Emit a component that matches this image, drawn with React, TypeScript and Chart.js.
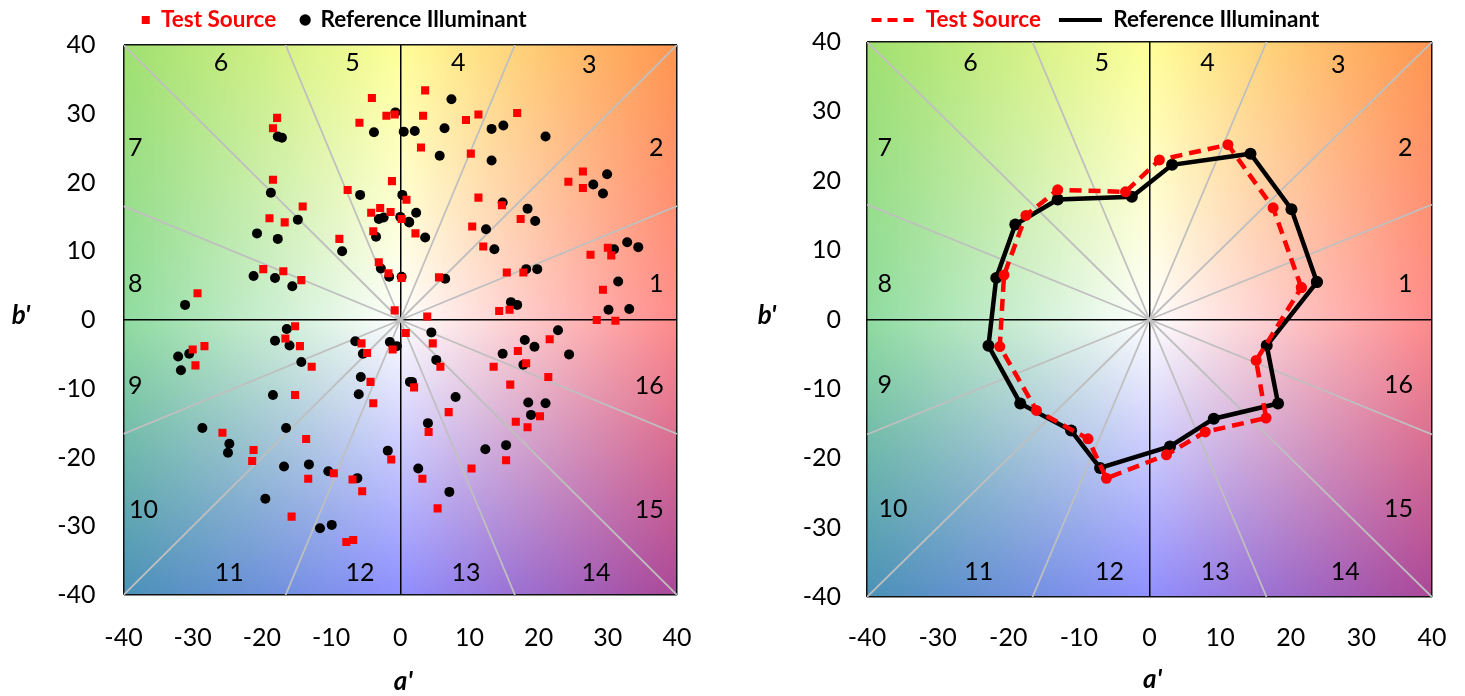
import React, { useEffect, useRef } from "react";
import { Chart, registerables } from "chart.js";

Chart.register(...registerables);

const testSourceScatter: number[][] = [
  [-4.1, 32.3], [-5.9, 28.7], [-2.0, 29.7], [-0.8, 29.9], [-17.8, 29.4], [-18.4, 27.9], [-18.4, 20.4], [-1.2, 20.2],
  [-7.6, 18.9], [0.9, 17.5], [-14.1, 16.5], [-2.9, 16.3], [-1.4, 15.7], [-4.2, 15.6], [0.2, 14.7], [-18.9, 14.8],
  [-16.7, 14.2], [-3.9, 12.9], [-8.8, 11.8], [-3.1, 8.4], [-1.7, 6.8], [0.2, 6.1], [-19.8, 7.4], [-16.9, 7.1],
  [-14.3, 5.8], [-29.3, 3.9], [-0.8, 1.4],
  [3.6, 33.4], [3.3, 29.7], [9.5, 29.1], [11.3, 29.9], [16.9, 30.1], [3.0, 25.1], [10.2, 24.2], [26.4, 21.6],
  [24.3, 20.1], [26.4, 19.2], [11.3, 17.8], [14.7, 16.7], [17.4, 14.7], [10.4, 13.6], [2.2, 12.6], [12.0, 10.7],
  [30.0, 10.5], [30.5, 9.4], [27.5, 9.5], [5.6, 6.2], [15.4, 6.9], [17.8, 6.9], [29.3, 4.4], [3.9, 0.5],
  [14.3, 1.3], [15.8, 1.5], [28.4, 0], [31.1, -0.1],
  [-15.2, -0.9], [-16.6, -2.7], [-14.5, -3.8], [-28.3, -3.8], [-30.0, -4.3], [-29.6, -6.6], [-12.8, -6.8], [-5.6, -3.4],
  [-4.8, -4.8], [-1.1, -4.3], [-4.3, -9.0], [-3.9, -12.1], [-15.2, -10.9], [-25.7, -16.4], [-13.6, -17.3],
  [-21.2, -18.9], [-21.4, -20.5], [-1.3, -20.3], [-13.3, -23.1], [-9.6, -22.3], [-6.9, -23.2], [-5.5, -24.9],
  [-15.7, -28.6], [-6.8, -32.0], [-7.8, -32.3],
  [0.8, -1.9], [4.7, -3.4], [5.8, -6.8], [2.0, -9.8], [7.0, -13.4], [4.1, -16.3], [10.3, -21.6], [3.2, -23.1],
  [5.4, -27.4], [21.6, -2.8], [17.0, -4.5], [13.5, -6.8], [18.2, -6.3], [21.4, -8.3], [15.9, -9.4], [20.2, -14.0],
  [16.7, -14.8], [18.4, -15.6], [15.3, -20.4],
];

const referenceScatter: number[][] = [
  [-0.7, 30.2], [-3.8, 27.3], [0.5, 27.4], [-17.7, 26.7], [-17.1, 26.5], [-18.7, 18.5], [-5.8, 18.2], [0.3, 18.2],
  [-14.8, 14.6], [-3.1, 14.7], [-2.4, 14.9], [0, 15.0], [1.25, 14.3], [-20.7, 12.6], [-17.7, 11.8], [-3.5, 12.1],
  [-8.4, 10.0], [-2.8, 7.5], [-1.6, 6.3], [0.2, 6.3], [-21.2, 6.4], [-18.1, 6.1], [-15.6, 4.9], [-31.1, 2.2],
  [7.4, 32.1], [2.1, 27.5], [6.4, 27.9], [13.2, 27.8], [14.9, 28.3], [21.0, 26.7], [5.7, 23.9], [13.2, 23.2],
  [29.9, 21.2], [27.9, 19.7], [29.3, 18.4], [14.8, 17.1], [18.4, 16.2], [19.5, 14.4], [2.3, 15.6], [1.3, 14.2],
  [3.6, 12.0], [12.4, 13.2], [13.6, 10.3], [32.8, 11.3], [34.4, 10.6], [30.9, 10.3], [18.2, 7.4], [19.8, 7.4],
  [6.5, 6.0], [31.5, 5.6], [16.0, 2.6], [16.9, 2.2], [30.1, 1.5], [33.1, 1.6],
  [-16.4, -1.3], [-18.1, -3.0], [-16.0, -3.7], [-14.3, -6.1], [-30.5, -4.9], [-32.1, -5.3], [-31.7, -7.3], [-6.5, -3.1],
  [-5.4, -4.9], [-1.5, -3.2], [-0.5, -3.8], [-5.7, -8.3], [-6.0, -10.8], [-18.4, -10.9], [1.4, -9.0], [-28.6, -15.7],
  [-16.5, -15.7], [-24.7, -18.0], [-24.9, -19.3], [-1.8, -19.0], [-16.8, -21.3], [-13.2, -21.0], [-10.4, -22.0],
  [-6.2, -23.0], [-19.5, -26.0], [-9.9, -29.8], [-11.6, -30.3],
  [4.5, -1.8], [5.2, -5.8], [1.7, -9.0], [8.0, -11.2], [4.0, -15.0], [12.3, -18.8], [15.3, -18.2], [2.6, -21.6],
  [7.1, -25.0], [22.8, -1.5], [18.0, -2.9], [19.4, -3.9], [14.8, -4.9], [17.8, -6.5], [24.4, -5.0], [18.5, -12.0],
  [21.0, -12.1], [18.9, -13.8],
];

const testSourceVector: number[][] = [
  [21.5, 4.6], [17.5, 16.1], [11.1, 25.2], [1.4, 23.0], [-3.4, 18.4], [-13.0, 18.7], [-17.5, 15.0], [-20.6, 6.4],
  [-21.2, -3.9], [-16.0, -13.1], [-8.7, -17.2], [-6.1, -22.9], [2.4, -19.5], [7.9, -16.2], [16.5, -14.2], [15.1, -5.9],
];

const referenceVector: number[][] = [
  [23.7, 5.4], [20.1, 15.9], [14.3, 23.9], [3.2, 22.3], [-2.5, 17.7], [-13.0, 17.3], [-19.0, 13.7], [-21.7, 6.0],
  [-22.8, -3.8], [-18.3, -12.1], [-11.1, -16.0], [-7.0, -21.4], [2.9, -18.3], [9.1, -14.3], [18.2, -12.1], [16.6, -3.75],
];

const sectorRayEnds: number[][] = [
  [40, 16.57], [40, 40], [16.57, 40], [-16.57, 40], [-40, 40], [-40, 16.57],
  [-40, -16.57], [-40, -40], [-16.57, -40], [16.57, -40], [40, -40], [40, -16.57],
];

const sectorLabels = ["1", "2", "3", "4", "5", "6", "7", "8", "9", "10", "11", "12", "13", "14", "15", "16"];
const sectorAnchors: number[][] = [
  [37, 5.2], [37, 25], [27.3, 37.1], [8.4, 37.4], [-6.9, 37.4], [-25.9, 37.4], [-38.3, 25], [-38.3, 5.2],
  [-38.3, -9.6], [-37.1, -27.6], [-24.7, -36.8], [-5.8, -36.8], [9.5, -36.8], [28.3, -36.8], [36, -27.6], [36, -9.6],
];

const tickValues = [-40, -30, -20, -10, 0, 10, 20, 30, 40];
const testLabel = "Test Source";
const referenceLabel = "Reference Illuminant";
const RED = "#ff0000";
const FONT = "Lato";

type RGB = number[];
const colorGrid: RGB[][] = [
  [[160, 224, 112], [255, 255, 153], [255, 150, 80]],
  [[144, 220, 160], [255, 255, 255], [255, 140, 140]],
  [[76, 146, 184], [144, 144, 255], [172, 72, 152]],
];

function makeBackground(): HTMLCanvasElement {
  const n = 200;
  const c = document.createElement("canvas");
  c.width = n;
  c.height = n;
  const ctx = c.getContext("2d")!;
  const img = ctx.createImageData(n, n);
  for (let j = 0; j < n; j++) {
    for (let i = 0; i < n; i++) {
      const u = (i / (n - 1)) * 2;
      const v = (j / (n - 1)) * 2;
      const iu = Math.min(1, Math.floor(u));
      const iv = Math.min(1, Math.floor(v));
      const fu = u - iu;
      const fv = v - iv;
      for (let k = 0; k < 3; k++) {
        const top = colorGrid[iv][iu][k] * (1 - fu) + colorGrid[iv][iu + 1][k] * fu;
        const bot = colorGrid[iv + 1][iu][k] * (1 - fu) + colorGrid[iv + 1][iu + 1][k] * fu;
        img.data[(j * n + i) * 4 + k] = top * (1 - fv) + bot * fv;
      }
      img.data[(j * n + i) * 4 + 3] = 255;
    }
  }
  ctx.putImageData(img, 0, 0);
  return c;
}

type Layout = {
  yAxisWidth: number;
  top: number;
  bottom: number;
  rightPad: number;
  tickPad: number;
  labelScaleX: number;
  labelScaleY: number;
  bX: number;
  titleY: number;
  legendLeft: number;
  legendPad: number;
  legendLabels: any;
};

const LEGEND_CENTER_Y = 20;
const LEGEND_FONT_SIZE = 22.5;

function pageFramePlugin(layout: Layout, bg: HTMLCanvasElement) {
  return {
    id: "tm30Frame",
    beforeDraw(chart: any) {
      const { ctx, chartArea: a } = chart;
      ctx.save();
      ctx.imageSmoothingEnabled = true;
      ctx.drawImage(bg, a.left, a.top, a.right - a.left, a.bottom - a.top);
      ctx.restore();
      const lg = chart.legend;
      if (lg) {
        const top = LEGEND_CENTER_Y - LEGEND_FONT_SIZE / 2 - layout.legendPad;
        lg.left = layout.legendLeft - layout.legendPad;
        lg.right = chart.width;
        lg.top = top;
        lg.bottom = top + 80;
      }
    },
    afterDatasetsDraw(chart: any) {
      const { ctx, scales } = chart;
      ctx.save();
      ctx.fillStyle = "#000";
      ctx.textAlign = "center";
      ctx.textBaseline = "middle";
      ctx.font = `25px ${FONT}`;
      sectorLabels.forEach((t, i) => {
        const [a, b] = sectorAnchors[i];
        ctx.fillText(t, scales.x.getPixelForValue(a * layout.labelScaleX), scales.y.getPixelForValue(b * layout.labelScaleY));
      });
      ctx.font = `italic bold 26px ${FONT}`;
      ctx.fillText("a'", scales.x.getPixelForValue(0) + 3, layout.titleY);
      ctx.fillText("b'", layout.bX, scales.y.getPixelForValue(0) - 4);
      ctx.restore();
    },
  };
}

function rayDatasets(): any[] {
  return sectorRayEnds.map((end) => ({
    type: "scatter",
    data: [{ x: 0, y: 0 }, { x: end[0], y: end[1] }],
    showLine: true,
    borderColor: "#bfbfbf",
    borderWidth: 1.8,
    pointRadius: 0,
  }));
}

function axis(layout: Layout, isX: boolean) {
  return {
    type: "linear",
    min: -40,
    max: 40,
    afterBuildTicks(scale: any) {
      scale.ticks = tickValues.map((value) => ({ value }));
    },
    afterFit(scale: any) {
      if (isX) scale.height = layout.bottom;
      else scale.width = layout.yAxisWidth;
      scale.paddingLeft = 0;
      scale.paddingRight = 0;
      scale.paddingTop = 0;
      scale.paddingBottom = 0;
    },
    border: { display: false },
    grid: {
      drawTicks: false,
      lineWidth: 1.5,
      color: (c: any) => (c.tick && c.tick.value === 0 ? "#000" : c.tick && Math.abs(c.tick.value) === 40 ? "#111" : "transparent"),
    },
    ticks: {
      autoSkip: false,
      maxRotation: 0,
      padding: layout.tickPad,
      color: "#000",
      font: { family: FONT, size: 25 },
    },
  };
}

function baseOptions(layout: Layout, legendItems: () => any[]) {
  return {
    responsive: false,
    animation: false as const,
    devicePixelRatio: 1,
    layout: { padding: { left: 0, top: layout.top - 1, right: layout.rightPad, bottom: 0 } },
    scales: { x: axis(layout, true), y: axis(layout, false) },
    plugins: {
      tooltip: { enabled: false },
      legend: {
        display: true,
        position: "top",
        align: "start",
        maxHeight: 1,
        labels: {
          padding: layout.legendPad,
          usePointStyle: true,
          font: { family: FONT, size: LEGEND_FONT_SIZE, weight: "bold" },
          generateLabels: legendItems,
          ...layout.legendLabels,
        },
      },
    },
  };
}

const leftLayout: Layout = {
  yAxisWidth: 123.5, top: 45, bottom: 101, rightPad: 23, tickPad: 28, labelScaleX: 1, labelScaleY: 1,
  bX: 21, titleY: 682, legendLeft: 141.75, legendPad: 25,
  legendLabels: { boxWidth: 8, boxHeight: 8 },
};
const rightLayout: Layout = {
  yAxisWidth: 117, top: 42, bottom: 99, rightPad: 33, tickPad: 26, labelScaleX: 0.979, labelScaleY: 0.99,
  bX: 17, titleY: 680, legendLeft: 121.5, legendPad: 18,
  legendLabels: { pointStyleWidth: 43, boxHeight: 8 },
};

function toPoints(rows: number[][]) {
  return rows.map(([x, y]) => ({ x, y }));
}

function closed(rows: number[][]) {
  return toPoints([...rows, rows[0]]);
}

export default function App() {
  const leftRef = useRef<HTMLCanvasElement>(null);
  const rightRef = useRef<HTMLCanvasElement>(null);

  useEffect(() => {
    document.body.style.margin = "0";
    const bg = makeBackground();

    const leftChart = new Chart(leftRef.current!, {
      type: "scatter",
      data: {
        datasets: [
          { label: testLabel, data: toPoints(testSourceScatter), pointStyle: "rect", pointRadius: 5.7, backgroundColor: RED, borderColor: RED, borderWidth: 0 },
          { label: referenceLabel, data: toPoints(referenceScatter), pointStyle: "circle", pointRadius: 5, backgroundColor: "#000", borderColor: "#000", borderWidth: 0 },
          ...rayDatasets(),
        ],
      },
      options: baseOptions(leftLayout, () => [
        { text: testLabel, fontColor: RED, fillStyle: RED, strokeStyle: RED, lineWidth: 0, pointStyle: "rect", datasetIndex: 0 },
        { text: referenceLabel, fontColor: "#000", fillStyle: "#000", strokeStyle: "#000", lineWidth: 0, pointStyle: "circle", datasetIndex: 1 },
      ]) as any,
      plugins: [pageFramePlugin(leftLayout, bg)],
    } as any);

    const rightChart = new Chart(rightRef.current!, {
      type: "scatter",
      data: {
        datasets: [
          { label: testLabel, data: closed(testSourceVector), showLine: true, borderColor: RED, borderWidth: 4.5, borderDash: [12, 7], pointRadius: 5.5, pointBackgroundColor: RED, pointBorderWidth: 0 },
          { label: referenceLabel, data: closed(referenceVector), showLine: true, borderColor: "#000", borderWidth: 4.5, pointRadius: 6, pointBackgroundColor: "#000", pointBorderWidth: 0 },
          ...rayDatasets(),
        ],
      },
      options: baseOptions(rightLayout, () => [
        { text: testLabel, fontColor: RED, fillStyle: RED, strokeStyle: RED, lineWidth: 4, lineDash: [10, 6], pointStyle: "line", datasetIndex: 0 },
        { text: referenceLabel, fontColor: "#000", fillStyle: "#000", strokeStyle: "#000", lineWidth: 4, pointStyle: "line", datasetIndex: 1 },
      ]) as any,
      plugins: [pageFramePlugin(rightLayout, bg)],
    } as any);

    return () => {
      leftChart.destroy();
      rightChart.destroy();
    };
  }, []);

  return (
    <div style={{ position: "fixed", left: 0, top: 0, width: 1465, height: 696, overflow: "hidden", background: "#fff" }}>
      <canvas ref={leftRef} width={700} height={696} style={{ position: "absolute", left: 0, top: 0, display: "block" }} />
      <canvas ref={rightRef} width={715} height={696} style={{ position: "absolute", left: 750, top: 0, display: "block" }} />
    </div>
  );
}
